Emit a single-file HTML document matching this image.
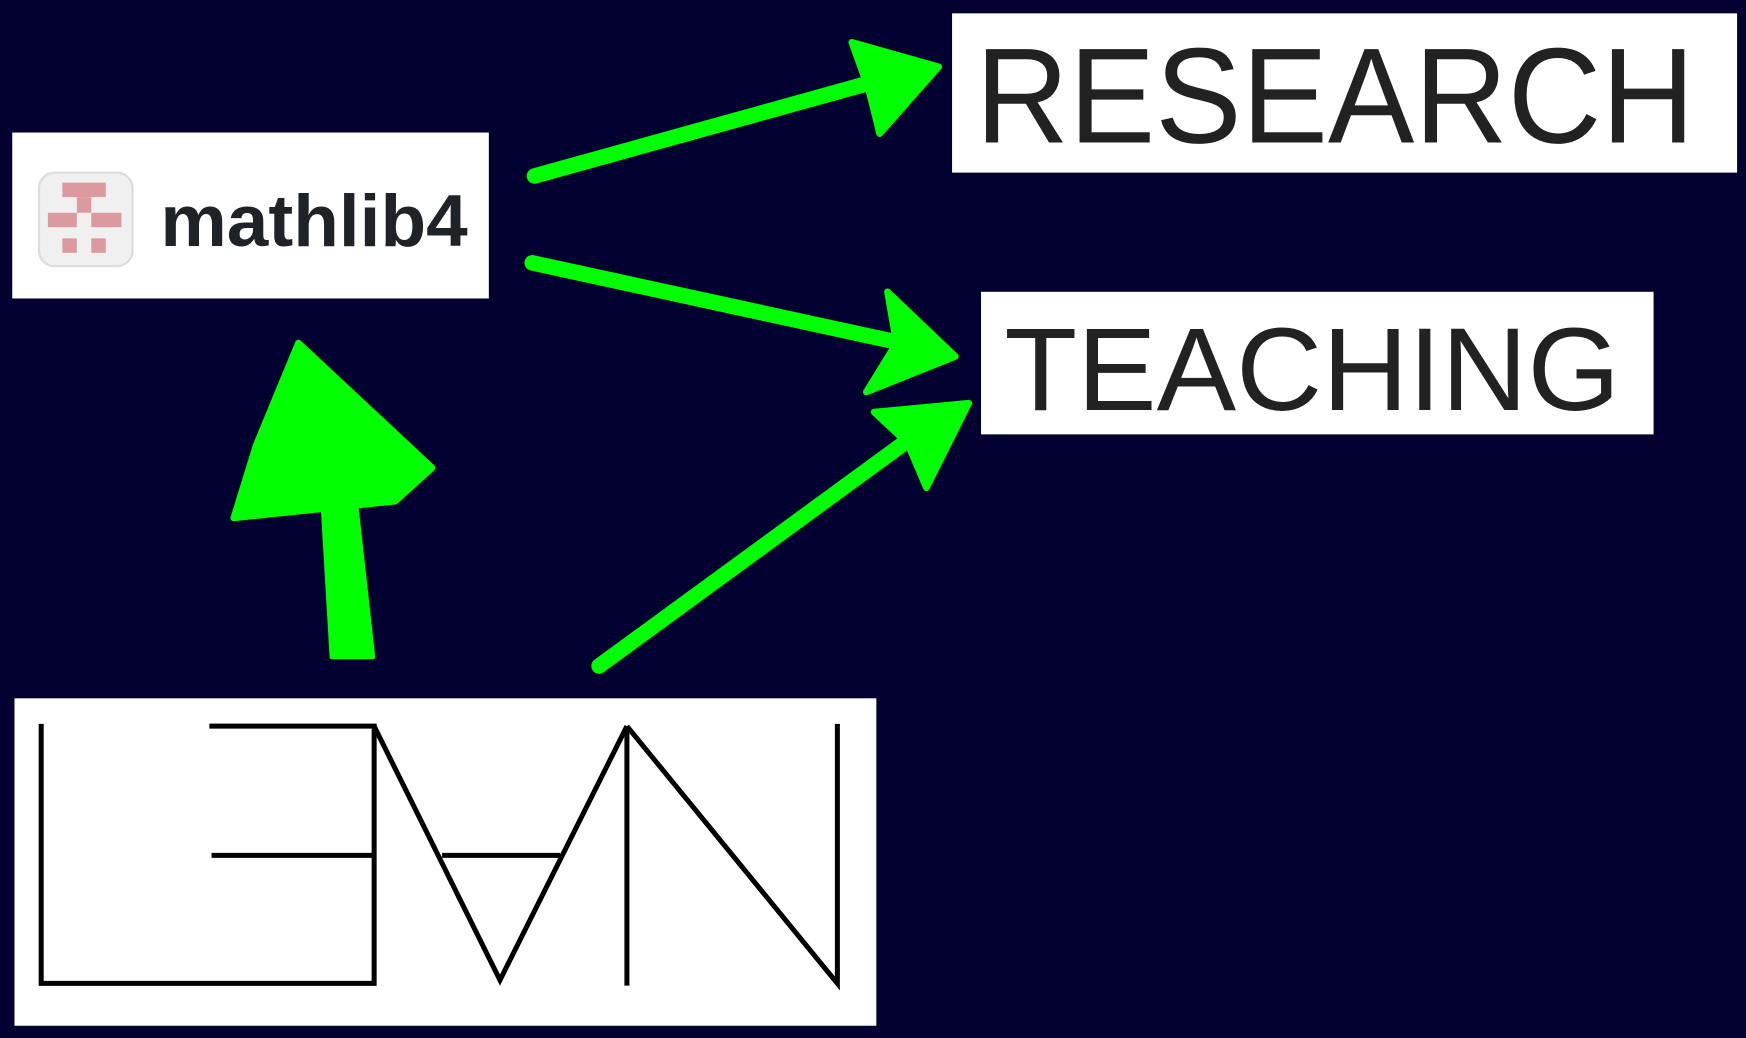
<!DOCTYPE html>
<html><head><meta charset="utf-8"><style>
html,body{margin:0;padding:0;background:#020030;}
svg{display:block}
</style></head><body>
<svg width="1746" height="1038" viewBox="0 0 1568 932" preserveAspectRatio="none" xmlns="http://www.w3.org/2000/svg">
<rect x="0" y="0" width="1568" height="932" fill="#020030"/>
<!-- RESEARCH -->
<rect x="855" y="12" width="705" height="143" fill="#fff"/>
<text x="876" y="128" font-family="Liberation Sans, sans-serif" font-size="122" fill="#222" textLength="646" lengthAdjust="spacingAndGlyphs">RESEARCH</text>
<!-- TEACHING -->
<rect x="881" y="262" width="604" height="128" fill="#fff"/>
<text x="902" y="368" font-family="Liberation Sans, sans-serif" font-size="106" fill="#222" textLength="553" lengthAdjust="spacingAndGlyphs">TEACHING</text>
<!-- mathlib4 -->
<rect x="11" y="119" width="428" height="149" fill="#fff"/>
<rect x="35" y="155" width="84" height="84" rx="14" fill="#f0f0f0" stroke="#ddd" stroke-width="2"/>
<g fill="#dc9aa0">
<rect x="56" y="164" width="39" height="13"/>
<rect x="69" y="177" width="13" height="14"/>
<rect x="43" y="191" width="26" height="13"/>
<rect x="82" y="191" width="27" height="13"/>
<rect x="56" y="214" width="13" height="13"/>
<rect x="82" y="214" width="13" height="13"/>
</g>
<text x="144" y="221" font-family="Liberation Sans, sans-serif" font-weight="bold" font-size="66" fill="#1f2328" textLength="276" lengthAdjust="spacingAndGlyphs">mathlib4</text>
<!-- LEAN -->
<rect x="13" y="627" width="774" height="294" fill="#fff"/>
<g stroke="#000" stroke-width="4.5" fill="none" stroke-linejoin="miter">
<polyline points="37,650 37,883 336,883 336,652 188,652"/>
<line x1="190" y1="768" x2="336" y2="768"/>
<polyline points="336,652 449,880 563,652"/>
<line x1="397" y1="768" x2="503" y2="768"/>
<line x1="563" y1="652" x2="563" y2="885"/>
<polyline points="563,652 752,883 752,650"/>
</g>
<!-- arrows -->
<g stroke="#00ff00" stroke-linecap="round" fill="#00ff00" stroke-linejoin="round">
<line x1="480" y1="158" x2="790" y2="72" stroke-width="14"/>
<polygon points="765,38 843,60 790,120 780,80" stroke-width="6"/>
<line x1="478" y1="236" x2="800" y2="306" stroke-width="14"/>
<polygon points="797,262 858,320 778,352 805,308" stroke-width="6"/>
<line x1="538" y1="598" x2="820" y2="392" stroke-width="14"/>
<polygon points="785,370 870,362 832,438 815,398" stroke-width="6"/>
<polygon points="298,590 335,590 320,455 290,455" stroke-width="4"/>
<polygon points="268,308 388,420 355,450 210,465 230,400" stroke-width="6"/>
</g>
</svg>
</body></html>
